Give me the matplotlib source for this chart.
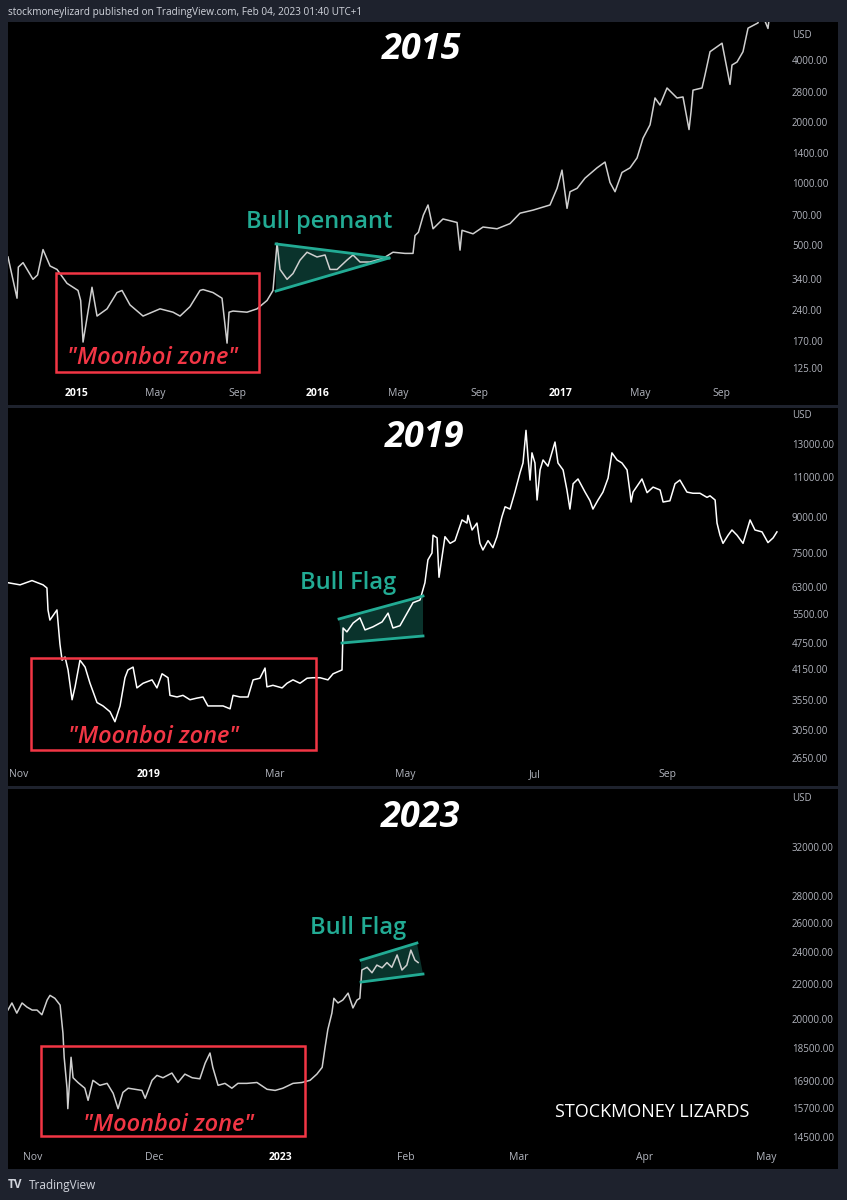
import numpy as np
import pandas as pd
import matplotlib
matplotlib.use('Agg')
import matplotlib.pyplot as plt
import matplotlib.dates as mdates
from matplotlib.patches import Rectangle, Polygon

plt.rcParams['font.family'] = ['Open Sans', 'DejaVu Sans']

# ---------------- data (days after a base date, close in USD) ----------------
base_2015 = pd.Timestamp('2015-01-01')
days_2015 = [-102.6, -89.0, -87.0, -79.9, -64.9, -58.0, -49.8, -39.2, -28.7, -13.6,
             3.0, 7.0, 10.6, 24.1, 31.7, 46.8, 61.8, 69.4, 81.4, 101.1,
             126.7, 146.3, 156.9, 171.9, 187.0, 191.6, 206.6, 220.2, 227.8, 230.8,
             236.8, 257.9, 273.0, 288.1, 297.1, 303.2, 307.7, 318.3, 327.3, 337.9,
             348.4, 363.5, 375.6, 383.1, 393.7, 408.7, 417.8, 428.4, 443.4, 463.0,
             478.1, 496.2, 508.3, 511.3, 516.4, 523.9, 530.9, 538.5, 553.5, 574.7,
             579.2, 582.2, 598.8, 613.9, 635.0, 654.6, 669.7, 689.3, 714.9, 725.5,
             733.0, 740.6, 745.1, 755.7, 767.7, 785.8, 797.9, 805.4, 813.0, 823.5,
             835.6, 846.2, 855.2, 865.8, 873.3, 880.8, 891.4, 906.5, 915.5, 924.6,
             927.6, 930.6, 944.2, 948.7, 956.3, 974.4, 986.4, 989.4, 997.0, 1006.0,
             1013.6, 1028.7, 1031.0, 1043.7, 1048.0, 1054.3]
price_2015 = [437, 275, 390, 410, 340, 357, 475, 395, 380, 325,
              300, 268, 168, 311, 225, 244, 293, 300, 255, 225,
              244, 235, 225, 250, 300, 303, 293, 275, 166, 235,
              238, 235, 244, 268, 300, 510, 380, 340, 363, 422,
              461, 437, 447, 380, 380, 422, 447, 413, 413, 430,
              461, 455, 455, 556, 577, 700, 784, 600, 670, 644,
              472, 590, 567, 612, 600, 636, 715, 740, 784, 945,
              1160, 755, 910, 945, 1060, 1190, 1270, 1010, 910, 1130,
              1190, 1330, 1660, 1930, 2610, 2410, 2920, 2610, 2640, 1830,
              2230, 2850, 2920, 3380, 4390, 4830, 3040, 3780, 3910, 4390,
              5720, 6070, 7200, 5700, 7500, 8000]

base_2019 = pd.Timestamp('2018-11-01')
days_2019 = [-5.2, 0.5, 6.1, 11.3, 13.1, 13.6, 14.5, 17.8, 19.2, 20.2,
             21.6, 23.0, 24.9, 26.3, 28.6, 31.0, 33.3, 36.6, 39.4, 42.7,
             45.0, 47.4, 49.7, 51.1, 53.5, 55.3, 58.2, 62.4, 64.7, 67.1,
             69.9, 70.8, 74.1, 76.9, 80.2, 83.5, 86.3, 88.6, 92.9, 95.7,
             99.0, 100.4, 103.7, 107.4, 109.8, 113.0, 115.4, 116.3, 119.1, 123.4,
             125.7, 128.5, 131.8, 135.1, 137.9, 141.2, 144.9, 147.3, 151.5, 152.0,
             153.8, 156.7, 159.9, 162.3, 166.0, 170.3, 173.1, 175.4, 178.7, 182.0,
             184.8, 188.1, 190.4, 191.8, 193.7, 194.2, 196.1, 197.0, 198.4, 199.8,
             202.2, 204.5, 207.8, 210.1, 210.6, 212.5, 214.8, 216.2, 217.6, 220.0,
             222.3, 224.2, 226.5, 228.0, 230.3, 232.6, 235.0, 236.4, 237.8, 238.7,
             239.7, 240.6, 242.0, 243.0, 244.4, 245.8, 248.1, 251.4, 252.8, 255.2,
             257.0, 258.4, 259.9, 262.2, 265.5, 267.8, 269.2, 271.6, 273.9, 276.3,
             278.1, 280.5, 282.8, 285.2, 286.6, 287.1, 288.0, 292.2, 294.6, 297.4,
             300.7, 302.1, 305.3, 307.7, 310.0, 313.3, 316.1, 319.4, 322.7, 324.1,
             326.5, 327.4, 328.8, 330.2, 332.6, 334.4, 336.8, 339.6, 342.9, 345.2,
             348.5, 351.3, 353.7, 355.5]
price_2019 = [6440, 6370, 6510, 6370, 6270, 5610, 5330, 5610, 4720, 4350,
              4420, 4140, 3560, 3800, 4350, 4200, 3870, 3510, 3450, 3350,
              3185, 3450, 3980, 4140, 4200, 3780, 3870, 3937, 3780, 4060,
              3980, 3640, 3610, 3640, 3560, 3590, 3610, 3450, 3450, 3450,
              3400, 3640, 3610, 3610, 3937, 3970, 4180, 3800, 3830, 3780,
              3870, 3937, 3870, 3970, 3980, 3980, 3937, 4060, 4140, 5120,
              5020, 5250, 5390, 5070, 5150, 5280, 5520, 5120, 5180, 5520,
              5820, 5900, 6440, 7230, 7485, 8190, 8080, 6620, 7330, 8130,
              7860, 7970, 8850, 8710, 9060, 8410, 8710, 7860, 7600, 7970,
              7690, 8130, 8990, 9460, 9350, 10190, 11240, 11810, 13930, 12210,
              10830, 12430, 11810, 9790, 11400, 11990, 11620, 13130, 11810, 11400,
              10300, 9350, 10630, 10890, 10190, 9760, 9350, 9790, 10190, 10940,
              12430, 11990, 11810, 11400, 10160, 9690, 10190, 10890, 10160, 10450,
              10300, 9690, 9750, 10630, 10830, 10190, 10130, 10130, 9920, 10000,
              9790, 8710, 8190, 7860, 8190, 8410, 8190, 7860, 8850, 8410,
              8330, 7890, 8080, 8330]

base_2023 = pd.Timestamp('2022-11-01')
days_2023 = [-6.2, -5.2, -4.0, -2.7, -1.5, -0.2, 1.0, 2.2, 3.5, 4.2,
             5.4, 6.7, 7.4, 7.7, 8.4, 8.6, 9.4, 9.9, 11.1, 12.8,
             13.6, 14.8, 16.5, 18.3, 19.8, 21.0, 22.2, 23.5, 25.2, 26.9,
             27.7, 29.4, 30.6, 32.1, 34.3, 35.8, 37.5, 39.3, 41.2, 42.5,
             43.7, 44.4, 45.7, 47.4, 49.1, 50.6, 52.8, 55.3, 57.8, 59.8,
             61.7, 64.2, 66.4, 68.4, 70.1, 71.4, 72.1, 72.8, 73.8, 74.3,
             75.3, 76.5, 77.8, 79.0, 80.0, 80.7, 81.2, 82.5, 83.7, 84.9,
             86.2, 87.4, 88.6, 89.9, 91.1, 92.3, 93.3, 94.3, 95.1]
price_2023 = [20500, 20900, 20330, 20900, 20670, 20500, 20500, 20240, 21070, 21340,
              21170, 20780, 19240, 18020, 16560, 15660, 18020, 17040, 16820, 16560,
              16020, 16920, 16690, 16780, 16330, 15660, 16370, 16560, 16510, 16460,
              16110, 16920, 17150, 17040, 17260, 16820, 17210, 17040, 16990, 17730,
              18230, 17530, 16690, 16780, 16560, 16780, 16780, 16820, 16510, 16460,
              16560, 16780, 16820, 16920, 17210, 17530, 18490, 19440, 20330, 21170,
              20900, 21070, 21470, 20620, 21070, 21170, 22870, 23040, 22700, 23180,
              23010, 23340, 23040, 23830, 22870, 23180, 24150, 23500, 23340]

ticks_2015 = [125, 170, 240, 340, 500, 700, 1000, 1400, 2000, 2800, 4000]
ticks_2019 = [2650, 3050, 3550, 4150, 4750, 5500, 6300, 7500, 9000, 11000, 13000]
ticks_2023 = [14500, 15700, 16900, 18500, 20000, 22000, 24000, 26000, 28000, 32000]

months_2015 = [('2015-01-01', '2015'), ('2015-05-01', 'May'), ('2015-09-01', 'Sep'),
               ('2016-01-01', '2016'), ('2016-05-01', 'May'), ('2016-09-01', 'Sep'),
               ('2017-01-01', '2017'), ('2017-05-01', 'May'), ('2017-09-01', 'Sep')]
months_2019 = [('2018-11-01', 'Nov'), ('2019-01-01', '2019'), ('2019-03-01', 'Mar'),
               ('2019-05-01', 'May'), ('2019-07-01', 'Jul'), ('2019-09-01', 'Sep')]
months_2023 = [('2022-11-01', 'Nov'), ('2022-12-01', 'Dec'), ('2023-01-01', '2023'),
               ('2023-02-01', 'Feb'), ('2023-03-01', 'Mar'), ('2023-04-01', 'Apr'),
               ('2023-05-01', 'May')]

# ---------------- styling ----------------
FRAME = '#1e222d'
AXIS_TXT = '#b2b5be'
RED = '#f23645'
TEAL = '#22ab94'

W, H = 847, 1200
fig = plt.figure(figsize=(W / 100, H / 100), dpi=100)
fig.patch.set_facecolor(FRAME)


def day(base, n):
    return mdates.date2num(base + pd.Timedelta(days=n))


def make_panel(top, bottom, xlim, ylim, yticks, months, usd_y):
    # black pane incl. the price scale strip
    fig.add_artist(Rectangle((8 / W, 1 - bottom / H), 830 / W, (bottom - top) / H,
                             transform=fig.transFigure, facecolor='black',
                             edgecolor='none', zorder=-1))
    ax = fig.add_axes([8 / W, 1 - bottom / H, 770 / W, (bottom - top) / H])
    ax.set_facecolor('black')
    for s in ax.spines.values():
        s.set_visible(False)
    ax.set_yscale('log')
    ax.set_xlim(*xlim)
    ax.set_ylim(*ylim)
    ax.yaxis.tick_right()
    ax.set_yticks(yticks)
    ax.set_yticklabels([f'{t:.2f}' for t in yticks])
    ax.yaxis.set_minor_locator(matplotlib.ticker.NullLocator())
    ax.tick_params(axis='y', length=0, pad=10, labelsize=7, labelcolor=AXIS_TXT)
    ax.set_xticks([mdates.date2num(pd.Timestamp(d)) for d, _ in months])
    ax.set_xticklabels([lab for _, lab in months])
    ax.tick_params(axis='x', length=0, direction='in', pad=-12, labelsize=7.5,
                   labelcolor=AXIS_TXT)
    for lab in ax.get_xticklabels():
        if lab.get_text().isdigit():
            lab.set_color('white')
            lab.set_fontweight('bold')
    ax.text(1.018, usd_y, 'USD', transform=ax.transAxes, color=AXIS_TXT,
            fontsize=7, va='center', ha='left')
    return ax


def moonboi(ax, x0, x1, y0, y1, tx, ty):
    ax.add_patch(Rectangle((x0, y0), x1 - x0, y1 - y0, fill=False,
                           edgecolor=RED, linewidth=1.8, zorder=4))
    ax.text(tx, ty, '"Moonboi zone"', color=RED, fontsize=17, style='italic',
            fontweight='semibold', ha='center', va='center', zorder=5)


def pattern(ax, pts, upper, lower, label, lx, ly):
    ax.add_patch(Polygon(pts, closed=True, facecolor=TEAL, alpha=0.3,
                         edgecolor='none', zorder=2))
    for i, j in (upper, lower):
        ax.plot([pts[i][0], pts[j][0]], [pts[i][1], pts[j][1]],
                color=TEAL, linewidth=2, zorder=4)
    ax.text(lx, ly, label, color=TEAL, fontsize=17, fontweight='semibold',
            ha='center', va='center')


def title(ax, text, xf, yf):
    ax.text(xf, yf, text, transform=ax.transAxes, color='white', fontsize=26,
            fontweight='bold', style='italic', ha='center', va='center')


# ---------------- panel 1: 2015 ----------------
ax1 = make_panel(22, 405, (day(base_2015, -102.6), day(base_2015, 1058.8)),
                 (82.8, 6130), ticks_2015, months_2015, 0.966)
ax1.plot([day(base_2015, d) for d in days_2015], price_2015,
         color='#cfcfcf', linewidth=1.1, zorder=3)
moonboi(ax1, day(base_2015, -30), day(base_2015, 276), 120, 365,
        day(base_2015, 115), 140)
pattern(ax1, [(day(base_2015, 301.7), 506), (day(base_2015, 472), 432),
              (day(base_2015, 301.7), 298)], (0, 1), (2, 1),
        'Bull pennant', day(base_2015, 366.5), 648)
title(ax1, '2015', 0.5377, 0.927)

# ---------------- panel 2: 2019 ----------------
ax2 = make_panel(408, 786, (day(base_2019, -5.16), day(base_2019, 356.0)),
                 (2300, 15600), ticks_2019, months_2019, 0.979)
ax2.plot([day(base_2019, d) for d in days_2019], price_2019,
         color='white', linewidth=1.1, zorder=3)
moonboi(ax2, day(base_2019, 5.6), day(base_2019, 139.3), 2760, 4400,
        day(base_2019, 62.9), 2950)
pattern(ax2, [(day(base_2019, 150.1), 5360), (day(base_2019, 189.5), 6020),
              (day(base_2019, 189.5), 4917), (day(base_2019, 151.5), 4745)],
        (0, 1), (3, 2), 'Bull Flag', day(base_2019, 154.3), 6430)
title(ax2, '2019', 0.5416, 0.9206)

# ---------------- panel 3: 2023 ----------------
ax3 = make_panel(789, 1169, (day(base_2023, -6.17), day(base_2023, 183.95)),
                 (13280, 37500), ticks_2023, months_2023, 0.974)
ax3.plot([day(base_2023, d) for d in days_2023], price_2023,
         color='#cfcfcf', linewidth=1.1, zorder=3)
moonboi(ax3, day(base_2023, 2.0), day(base_2023, 67.2), 14530, 18580,
        day(base_2023, 33.5), 14970)
pattern(ax3, [(day(base_2023, 81.0), 23500), (day(base_2023, 94.8), 24620),
              (day(base_2023, 96.3), 22620), (day(base_2023, 81.0), 22130)],
        (0, 1), (3, 2), 'Bull Flag', day(base_2023, 80.2), 25650)
ax3.text(day(base_2023, 153), 15510, 'STOCKMONEY LIZARDS', color='white',
         fontsize=13, ha='center', va='center')
title(ax3, '2023', 0.5364, 0.9237)

# ---------------- header / footer ----------------
fig.text(8 / W, 1 - 13 / H,
         'stockmoneylizard published on TradingView.com, Feb 04, 2023 01:40 UTC+1',
         color='#d1d4dc', fontsize=7.2, va='center', ha='left')
fig.text(8 / W, 1 - 1185 / H, 'TV', color='#d1d4dc', fontsize=8.5,
         fontweight='bold', va='center', ha='left')
fig.text(29 / W, 1 - 1185 / H, 'TradingView', color='#d1d4dc', fontsize=8.5,
         va='center', ha='left')

fig.savefig('out.png', dpi=100, facecolor=fig.get_facecolor())
